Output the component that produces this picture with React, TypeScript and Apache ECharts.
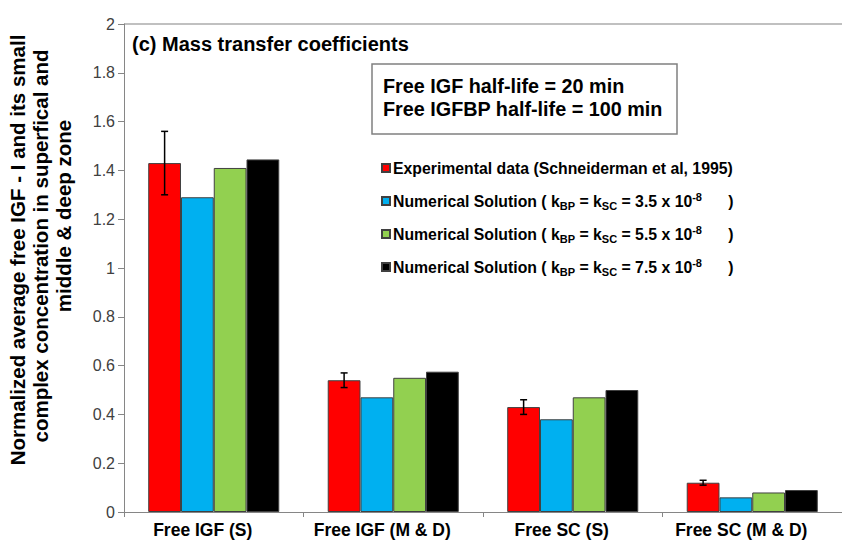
import React, { useEffect, useRef } from "react";
import * as echarts from "echarts";

const categories = ["Free IGF (S)", "Free IGF (M & D)", "Free SC (S)", "Free SC (M & D)"];
const experimental = [1.43, 0.54, 0.43, 0.12];
const experimentalErr = [0.13, 0.03, 0.03, 0.01];
const numerical35 = [1.29, 0.47, 0.38, 0.06];
const numerical55 = [1.41, 0.55, 0.47, 0.08];
const numerical75 = [1.445, 0.575, 0.5, 0.09];
const seriesNames = [
  "Experimental data (Schneiderman et al, 1995)",
  "Numerical Solution ( kBP = kSC = 3.5 x 10-8 )",
  "Numerical Solution ( kBP = kSC = 5.5 x 10-8 )",
  "Numerical Solution ( kBP = kSC = 7.5 x 10-8 )",
];
const legendRich = [
  "Experimental data (Schneiderman et al, 1995)",
  "Numerical Solution ( k{sub|BP} = k{sub|SC} = 3.5 x 10{sup|-8}      )",
  "Numerical Solution ( k{sub|BP} = k{sub|SC} = 5.5 x 10{sup|-8}      )",
  "Numerical Solution ( k{sub|BP} = k{sub|SC} = 7.5 x 10{sup|-8}      )",
];
const colors = ["#FF0000", "#00B0F0", "#92D050", "#000000"];
const titleText = "(c) Mass transfer coefficients";
const boxLines = ["Free IGF half-life = 20 min", "Free IGFBP half-life = 100 min"];
const yTitleLines = [
  "Normalized average free IGF - I and its small",
  "complex concentration in superfical and",
  "middle & deep zone",
];

const FONT = "'Liberation Sans', Arial, sans-serif";
const GAP = 0.27;

export default function App() {
  const ref = useRef<HTMLDivElement>(null);
  useEffect(() => {
    if (!ref.current) return;
    const chart = echarts.init(ref.current, null, { renderer: "svg" });
    const values = [experimental, numerical35, numerical55, numerical75];
    const splitColors = Array.from({ length: 11 }, (_, i) => (i === 10 ? "#C0C0C0" : "rgba(0,0,0,0)"));
    const errData = categories.map((_, i) => [i, experimental[i] - experimentalErr[i], experimental[i] + experimentalErr[i]]);
    chart.setOption({
      animation: false,
      backgroundColor: "#ffffff",
      textStyle: { fontFamily: FONT },
      grid: { left: 124, right: -7, top: 24, bottom: 30, containLabel: false },
      legend: {
        orient: "vertical",
        left: 376,
        top: 153,
        icon: "rect",
        itemWidth: 8,
        itemHeight: 8,
        itemGap: 13,
        data: seriesNames,
        formatter: (name: string) => legendRich[seriesNames.indexOf(name)],
        textStyle: {
          fontFamily: FONT,
          fontSize: 15.8,
          fontWeight: "bold",
          color: "#000",
          lineHeight: 20,
          padding: [0, 0, 0, -2],
          rich: {
            sub: { fontFamily: FONT, fontSize: 11, fontWeight: "bold", lineHeight: 11, verticalAlign: "bottom", color: "#000" },
            sup: { fontFamily: FONT, fontSize: 11, fontWeight: "bold", lineHeight: 11, verticalAlign: "top", color: "#000" },
          },
        },
      },
      xAxis: {
        type: "category",
        data: categories,
        axisLine: { lineStyle: { color: "#868686", width: 1 } },
        axisTick: { show: true, length: 5, lineStyle: { color: "#868686" } },
        axisLabel: { fontFamily: FONT, fontSize: 17.5, fontWeight: "bold", color: "#000", margin: 9, padding: [0, 22, 0, 0] },
      },
      yAxis: {
        type: "value",
        min: 0,
        max: 2,
        interval: 0.2,
        axisLine: { show: true, lineStyle: { color: "#868686", width: 1 } },
        axisTick: { show: true, length: 6, lineStyle: { color: "#868686" } },
        axisLabel: { fontFamily: FONT, fontSize: 16, color: "#404040", margin: 9 },
        splitLine: { show: true, lineStyle: { color: splitColors, width: 2 } },
      },
      series: [
        ...values.map((v, k) => ({
          type: "bar",
          name: seriesNames[k],
          data: v,
          barGap: "0%",
          barCategoryGap: GAP * 100 + "%",
          itemStyle: { color: colors[k], borderColor: "#404040", borderWidth: 1 },
        })),
        {
          type: "custom",
          name: "error",
          data: errData,
          encode: { x: 0, y: [1, 2] },
          z: 10,
          renderItem: (params: any, api: any) => {
            const xi = api.value(0);
            const lo = api.coord([xi, api.value(1)]);
            const hi = api.coord([xi, api.value(2)]);
            const band = api.size([1, 0])[0];
            const bw = (band * (1 - GAP)) / 4;
            const cx = lo[0] - 1.5 * bw;
            const cap = 3.5;
            const st = { stroke: "#000", lineWidth: 1.5 };
            return {
              type: "group",
              children: [
                { type: "line", shape: { x1: cx, y1: hi[1], x2: cx, y2: lo[1] }, style: st },
                { type: "line", shape: { x1: cx - cap, y1: hi[1], x2: cx + cap, y2: hi[1] }, style: st },
                { type: "line", shape: { x1: cx - cap, y1: lo[1], x2: cx + cap, y2: lo[1] }, style: st },
              ],
            };
          },
        },
      ],
      graphic: [
        {
          type: "text",
          x: 132,
          y: 44,
          style: { text: titleText, fontFamily: FONT, fontSize: 20, fontWeight: "bold", fill: "#000", verticalAlign: "middle" },
        },
        {
          type: "rect",
          shape: { x: 372, y: 64, width: 305, height: 70 },
          style: { fill: "#fff", stroke: "#808080", lineWidth: 1.5 },
        },
        ...boxLines.map((t, i) => ({
          type: "text",
          x: 383,
          y: 86 + i * 23,
          style: { text: t, fontFamily: FONT, fontSize: 19.8, fontWeight: "bold", fill: "#000", verticalAlign: "middle" },
        })),
        ...yTitleLines.map((t, i) => ({
          type: "text",
          x: 17 + i * 23,
          y: [250, 246, 216][i],
          rotation: Math.PI / 2,
          style: { text: t, fontFamily: FONT, fontSize: 20.5, fontWeight: "bold", fill: "#000", align: "center", verticalAlign: "middle" },
        })),
      ],
    });
    return () => chart.dispose();
  }, []);
  return <div ref={ref} style={{ position: "fixed", left: 0, top: 0, width: 842, height: 542 }} />;
}
